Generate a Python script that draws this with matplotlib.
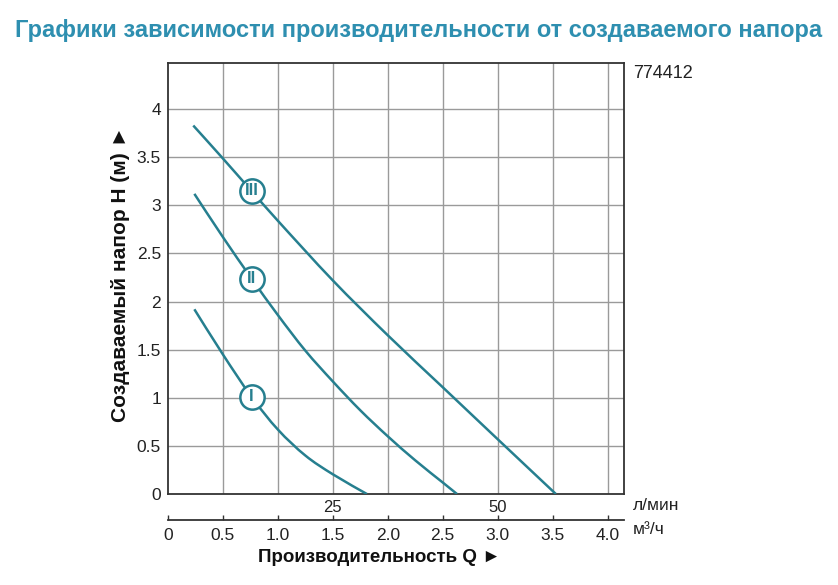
import numpy as np
import matplotlib.pyplot as plt
from matplotlib.path import Path
from matplotlib.patches import PathPatch

# ---------- data ----------
# flow Q in m3/h, head H in m
q_III = [0.23, 0.49, 0.76, 1.0, 1.5, 2.0, 2.5, 3.0, 3.53]
h_III = [3.83, 3.50, 3.15, 2.84, 2.22, 1.65, 1.11, 0.57, 0.0]

q_II = [0.24, 0.5, 0.76, 1.0, 1.25, 1.5, 1.75, 2.0, 2.25, 2.5, 2.63]
h_II = [3.12, 2.67, 2.24, 1.86, 1.49, 1.17, 0.87, 0.60, 0.35, 0.12, 0.0]

q_I = [0.24, 0.5, 0.76, 1.0, 1.25, 1.5, 1.81]
h_I = [1.92, 1.45, 1.01, 0.67, 0.40, 0.205, 0.0]

curve_names = ["I", "II", "III"]
label_q = 0.76   # where the roman numeral circles sit

y_ticks = [0, 0.5, 1, 1.5, 2, 2.5, 3, 3.5, 4]
q_ticks = [0, 0.5, 1.0, 1.5, 2.0, 2.5, 3.0, 3.5, 4.0]
lmin_ticks = [1.5, 3.0]          # 25 and 50 l/min in m3/h
lmin_labels = ["25", "50"]

TEAL = "#267f8f"
TITLE_COL = "#2e8fb0"
GRID = "#9a9a9a"
FONT = ["Liberation Sans", "DejaVu Sans"]

plt.rcParams["font.family"] = FONT


def smooth_path(xs, ys):
    # catmull-rom through the read points, drawn as cubic bezier segments
    p = np.column_stack([xs, ys])
    verts = [p[0]]
    codes = [Path.MOVETO]
    n = len(p)
    for i in range(n - 1):
        p0 = p[i - 1] if i > 0 else p[i]
        p1, p2 = p[i], p[i + 1]
        p3 = p[i + 2] if i + 2 < n else p[i + 1]
        c1 = p1 + (p2 - p0) / 6.0
        c2 = p2 - (p3 - p1) / 6.0
        verts += [c1, c2, p2]
        codes += [Path.CURVE4] * 3
    return Path(verts, codes)


W, H = 838, 585
fig = plt.figure(figsize=(W / 100, H / 100), dpi=100)
ax = fig.add_axes([168 / W, 1 - 494 / H, (624 - 168) / W, (494 - 63) / H])

ax.set_xlim(0, 4.15)
ax.set_ylim(0, 4.48)

# grid
for q in q_ticks[1:]:
    ax.axvline(q, color=GRID, lw=1.0, zorder=1)
for y in y_ticks[1:]:
    ax.axhline(y, color=GRID, lw=1.0, zorder=1)

for s in ax.spines.values():
    s.set_color("#333333")
    s.set_linewidth(1.3)

# curves
curves = [(q_I, h_I), (q_II, h_II), (q_III, h_III)]
for (q, h), name in zip(curves, curve_names):
    ax.add_patch(PathPatch(smooth_path(q, h), fill=False, edgecolor=TEAL,
                           lw=1.8, zorder=3, capstyle="butt"))
    yl = np.interp(label_q, q, h)
    ax.plot(label_q, yl, "o", ms=17.5, mfc="white", mec=TEAL, mew=1.8, zorder=4)
    ax.text(label_q, yl, name, color=TEAL, fontsize=12, fontweight="bold",
            ha="center", va="center", zorder=5)

# y axis ticks
ax.set_yticks(y_ticks)
ax.set_yticklabels(["%g" % v for v in y_ticks])
ax.tick_params(axis="y", length=0, pad=5, labelsize=12.5, labelcolor="#222222")

# l/min ticks on the main axis
ax.set_xticks(lmin_ticks)
ax.set_xticklabels(lmin_labels)
ax.tick_params(axis="x", length=0, pad=4, labelsize=12, labelcolor="#222222")

# m3/h scale below
sec = ax.secondary_xaxis(-26 / 431)
sec.set_xticks(q_ticks)
sec.set_xticklabels(["0"] + ["%.1f" % v for v in q_ticks[1:]])
sec.tick_params(direction="in", length=3.5, width=1.0, color="#333333",
                pad=6, labelsize=12.5, labelcolor="#222222")
sec.spines["bottom"].set_color("#333333")
sec.spines["bottom"].set_linewidth(1.3)

# texts
fig.text(0.5, 1 - 30 / H, "Графики зависимости производительности от создаваемого напора",
         ha="center", va="center", color=TITLE_COL, fontsize=17, fontweight="bold")
fig.text(633 / W, 1 - 73 / H, "774412", ha="left", va="center", fontsize=13, color="#222222")
fig.text(633 / W, 1 - 506 / H, "л/мин", ha="left", va="center", fontsize=12.5, color="#222222")
fig.text(633 / W, 1 - 529 / H, "м³/ч", ha="left", va="center", fontsize=12.5, color="#222222")

fig.text(379 / W, 1 - 557 / H, "Производительность Q ►", ha="center", va="center",
         fontsize=13.5, fontweight="bold", color="#111111")
fig.text(120 / W, 1 - 274 / H, "Создаваемый напор H (м) ►", ha="center", va="center",
         rotation=90, fontsize=15, fontweight="bold", color="#111111")

fig.savefig("out.png", dpi=100, facecolor="white")
